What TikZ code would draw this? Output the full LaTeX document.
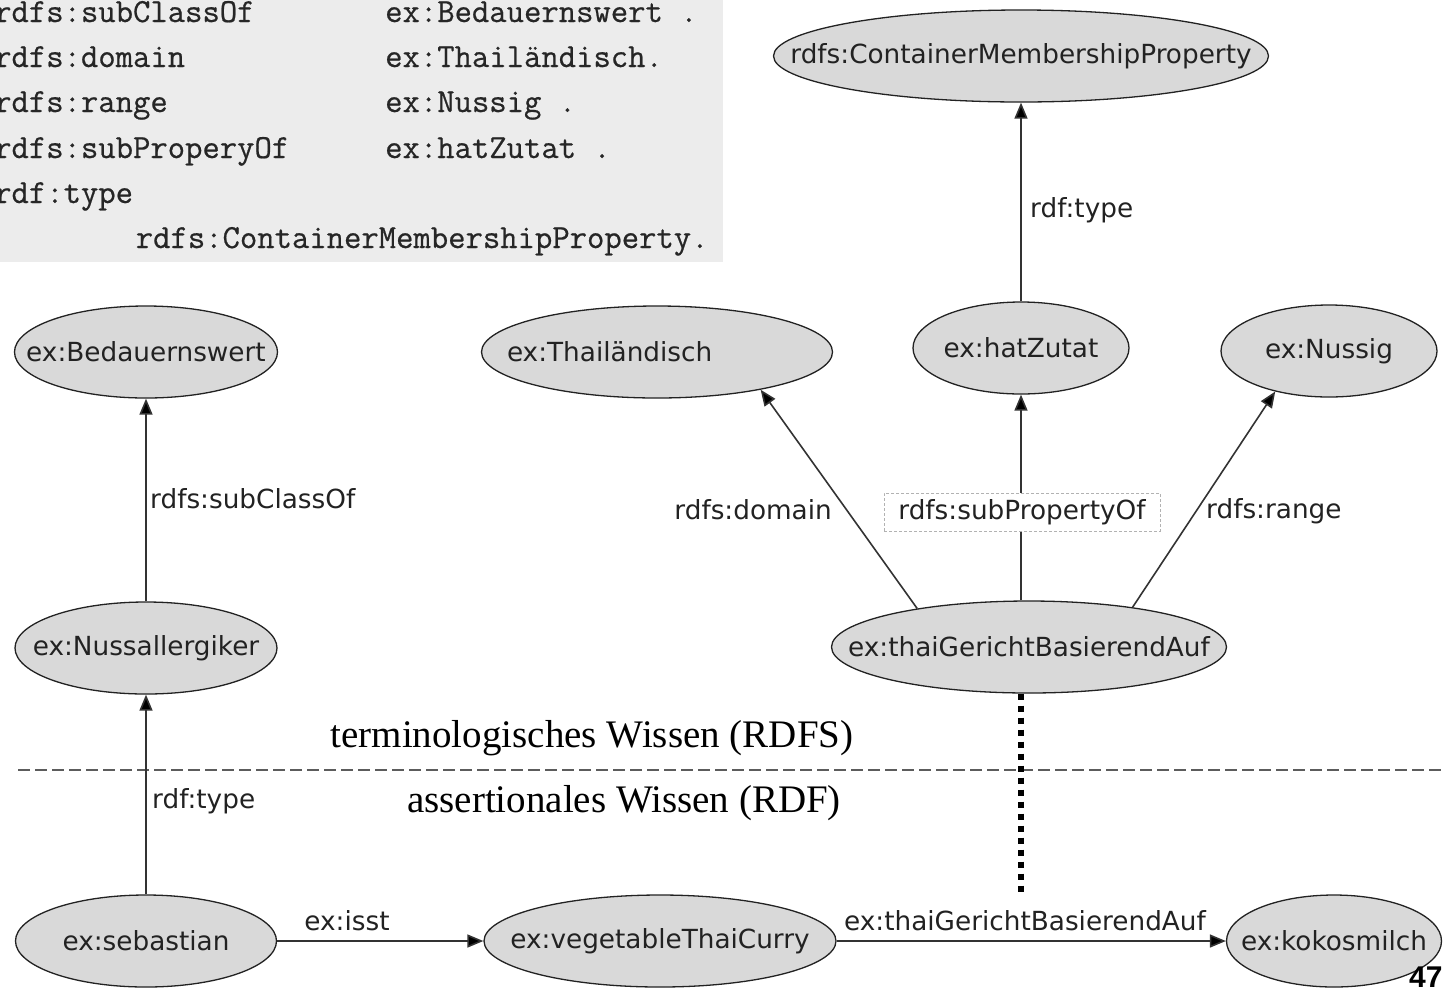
\documentclass[tikz,border=0pt]{standalone}
\usepackage{fontspec}
\setmainfont{Liberation Serif}
\newfontfamily\dejavu{DejaVu Sans}
\newfontfamily\lsans{Liberation Sans}
\newfontfamily\codefont[FakeBold=0.6]{Latin Modern Mono}
\usetikzlibrary{shapes.geometric,arrows.meta}
\definecolor{ellfill}{HTML}{D9D9D9}
\definecolor{codebg}{HTML}{ECECEC}
\definecolor{linecol}{HTML}{333333}
\definecolor{txtcol}{HTML}{222222}
\newcommand\ctext[1]{\makebox[0pt]{#1}}
\tikzset{
 ell/.style={ellipse, draw=txtcol, line width=1.3pt, fill=ellfill, inner sep=0pt, minimum height=92pt,
   font=\dejavu\fontsize{26.3}{30}\selectfont, text=txtcol},
 lbl/.style={inner sep=0pt, font=\dejavu\fontsize{26.3}{30}\selectfont, text=txtcol},
 arr/.style={draw=linecol, line width=1.6pt, -{Triangle[length=16pt,width=13pt,fill=black]}},
 code/.style={inner sep=0pt, anchor=base west, font=\codefont\fontsize{33.7}{40}\selectfont, text=black!85},
 sect/.style={inner sep=0pt, anchor=base, font=\fontsize{39}{45}\selectfont, text=black},
 sepline/.style={draw=linecol!80, line width=2pt, dash pattern=on 12pt off 5pt},
 dotline/.style={draw=black, line width=6pt, dash pattern=on 6pt off 6pt},
 boxlbl/.style={lbl, draw=gray!60, fill=white, line width=0.8pt, dash pattern=on 3pt off 2pt,
   minimum width=276pt, minimum height=38pt},
}
\begin{document}
\begin{tikzpicture}[x=1pt,y=-1pt]
\useasboundingbox (0,0) rectangle (1447,989);
\clip (0,0) rectangle (1447,989);
% code box
\fill[codebg] (0,0) rectangle (723,262);
\node[code] (ca1) at (-6,22) {rdfs:subClassOf};
\node[code] (cb1) at (385,22) {ex:Bedauernswert .};
\node[code] (ca2) at (-6,67) {rdfs:domain};
\node[code] (cb2) at (385,67) {ex:Thailändisch.};
\node[code] (ca3) at (-6,112) {rdfs:range};
\node[code] (cb3) at (385,112) {ex:Nussig .};
\node[code] (ca4) at (-6,158) {rdfs:subProperyOf};
\node[code] (cb4) at (385,158) {ex:hatZutat .};
\node[code] (ca5) at (-6,203) {rdf:type};
\node[code] (ca6) at (135.6,248) {rdfs:ContainerMembershipProperty.};
% separator
\coordinate (sepL) at (18,770);
\coordinate (sepR) at (1442,770);
\draw[sepline] (sepL) -- (sepR);
\node[sect] (term) at (592,747) {terminologisches Wissen (RDFS)};
\node[sect] (asse) at (624,812) {assertionales Wissen (RDF)};
% nodes
\node[ell, minimum width=495pt] (cmp) at (1021,56) {\ctext{rdfs:ContainerMembershipProperty}};
\node[ell, minimum width=263pt] (bed) at (146,352) {\ctext{ex:Bedauernswert}};
\node[ell, minimum width=351pt] (thai) at (657,352) {\makebox[0pt][l]{\kern-150pt ex:Thailändisch}};
\node[ell, minimum width=216pt] (hat) at (1021,348) {\ctext{ex:hatZutat}};
\node[ell, minimum width=216pt] (nus) at (1329,351) {\ctext{ex:Nussig}};
\node[ell, minimum width=262pt] (nal) at (146,648) {\ctext{ex:Nussallergiker}};
\node[ell, minimum width=395pt] (tg) at (1029,647) {\ctext{ex:thaiGerichtBasierendAuf}};
\node[ell, minimum width=261pt] (seb) at (146,941) {\ctext{ex:sebastian}};
\node[ell, minimum width=352pt] (veg) at (660,941) {\ctext{ex:vegetableThaiCurry}};
\node[ell, minimum width=215pt] (kok) at (1334,941) {\ctext{ex:kokosmilch}};
% connectors
\draw[arr] (seb) -- (nal);
\draw[arr] (nal) -- (bed);
\draw[arr] (tg.161) -- (thai.-20);
\draw[arr] (tg.north -| hat.south) -- (hat.south);
\draw[arr] (tg.21) -- (nus.217);
\draw[arr] (hat) -- (cmp);
\draw[arr] (seb) -- (veg);
\draw[arr] (veg) -- (kok);
\coordinate (dotend) at (1021,895);
\draw[dotline] (tg.south -| hat.south) -- (dotend);
% labels
\node[lbl, anchor=base west] (l1) at (152,808) {rdf:type};
\node[lbl, anchor=base west] (l2) at (150,508) {rdfs:subClassOf};
\node[lbl, anchor=base east] (l3) at (832,519) {rdfs:domain};
\node[boxlbl] (l4) at (1022,512) {rdfs:subPropertyOf};
\node[lbl, anchor=base west] (l5) at (1206,518) {rdfs:range};
\node[lbl, anchor=base west] (l6) at (1030,217) {rdf:type};
\node[lbl, anchor=base] (l7) at (347,930) {ex:isst};
\node[lbl, anchor=base] (l8) at (1025,930) {ex:thaiGerichtBasierendAuf};
\node[inner sep=0pt, anchor=base west, font=\lsans\bfseries\fontsize{30}{34}\selectfont] (pg) at (1409,987) {47};
\end{tikzpicture}
\end{document}
